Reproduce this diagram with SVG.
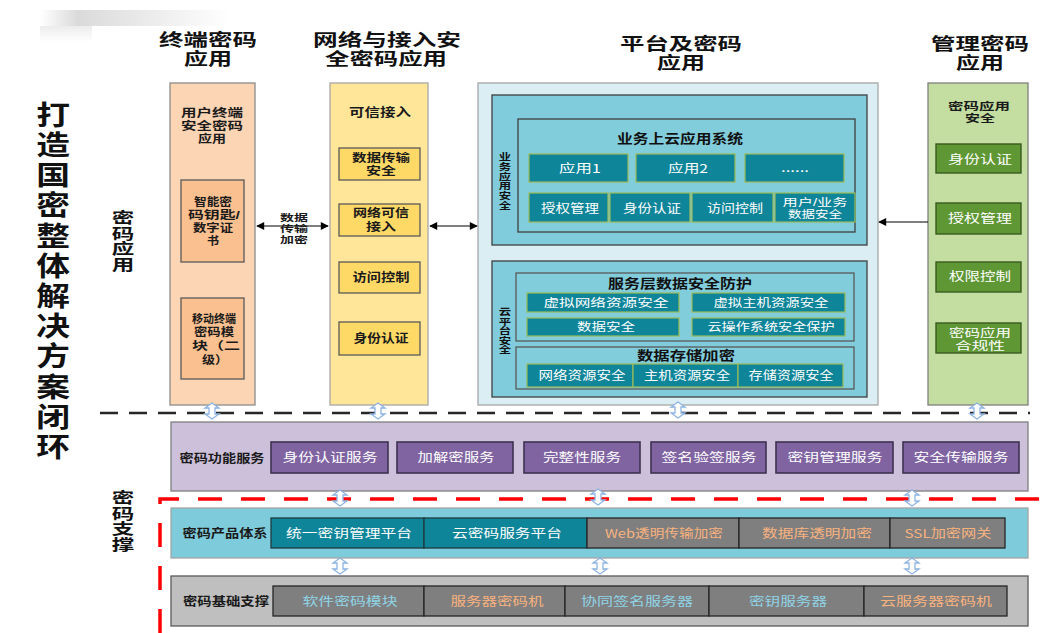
<svg xmlns="http://www.w3.org/2000/svg" width="1041" height="633" viewBox="0 0 1041 633">
<defs>
<style>
text{font-family:"Noto Sans CJK SC","Noto Sans",sans-serif;text-anchor:middle}
text.m{font-family:"Liberation Sans","Noto Sans CJK SC",sans-serif}
.v{writing-mode:vertical-rl;text-anchor:start;font-weight:bold;fill:#111}
.h{font-size:16.5px;font-weight:bold;fill:#111}
.d{font-size:12px;font-weight:bold;fill:#1a1a1a}
.d2{font-size:11.5px;font-weight:bold;fill:#1a1a1a}
.d3{font-size:10.5px;font-weight:bold;fill:#1a1a1a}
.s{font-size:9.5px;font-weight:bold;fill:#1a1a1a}
.w{font-size:12px;fill:#fff}
.w3{font-size:10.5px;fill:#fff}
.w11{font-size:11px;fill:#fff}
.o{font-size:12px;fill:#F9B27E}
.b{font-size:12px;fill:#8FD4E6}
.t13{font-size:13px;font-weight:bold;fill:#111}
.teal{fill:#0F8599;stroke:#9BBB59;stroke-width:1.2}
.purp{fill:#8064A2;stroke:#3F3151;stroke-width:1.6}
.grn{fill:#5F9735;stroke:#3A5A20;stroke-width:1.4}
.gold{fill:#FFD966;stroke:#595959;stroke-width:1.3}
.peach{fill:#FAC08F;stroke:#595959;stroke-width:1.3}
.gray{fill:#7F7F7F;stroke:#262626;stroke-width:1.3}
.tealp{fill:#0F8599;stroke:#1F3A40;stroke-width:1.3}
.cn{fill:none;stroke:#000;stroke-width:1.2}
</style>
<marker id="ah" viewBox="0 0 10 10" refX="9" refY="5" markerWidth="10" markerHeight="8" orient="auto-start-reverse" markerUnits="userSpaceOnUse">
<path d="M0,0 L10,5 L0,10 Z" fill="#000"/>
</marker>
<path id="ud" d="M0,-8 L7,-3 L3,-3 L3,3 L7,3 L0,8 L-7,3 L-3,3 L-3,-3 L-7,-3 Z" fill="#fff" stroke="#8DB3E2" stroke-width="1.3"/>
<linearGradient id="sh" x1="0" y1="0" x2="1" y2="0">
<stop offset="0" stop-color="#fff"/>
<stop offset="0.2" stop-color="#DADADA"/>
<stop offset="1" stop-color="#fff"/>
</linearGradient>
<linearGradient id="sh2" x1="0" y1="0" x2="0" y2="1">
<stop offset="0" stop-color="#ECECEC"/>
<stop offset="1" stop-color="#fff"/>
</linearGradient>
</defs>
<rect width="1041" height="633" fill="#fff"/>
<rect x="40" y="10" width="190" height="16" fill="url(#sh)"/>
<rect x="40" y="26" width="52" height="16" fill="url(#sh2)"/>

<g id="title">
<text class="h m"><tspan x="208" y="46" textLength="98" lengthAdjust="spacingAndGlyphs">终端密码</tspan><tspan x="208" y="65" textLength="48" lengthAdjust="spacingAndGlyphs">应用</tspan></text>
<text class="h m"><tspan x="387" y="46" textLength="148" lengthAdjust="spacingAndGlyphs">网络与接入安</tspan><tspan x="386" y="65" textLength="122" lengthAdjust="spacingAndGlyphs">全密码应用</tspan></text>
<text class="h m"><tspan x="681" y="50" textLength="122" lengthAdjust="spacingAndGlyphs">平台及密码</tspan><tspan x="681" y="69" textLength="48" lengthAdjust="spacingAndGlyphs">应用</tspan></text>
<text class="h m"><tspan x="980" y="50" textLength="98" lengthAdjust="spacingAndGlyphs">管理密码</tspan><tspan x="980" y="69" textLength="48" lengthAdjust="spacingAndGlyphs">应用</tspan></text>
<text class="v" transform="translate(53,101) scale(1.25,1)" x="0" y="0" style="font-size:27px;letter-spacing:3.2px">打造国密整体解决方案闭环</text>
<text class="v" transform="translate(123,210) scale(1.5,1)" x="0" y="0" style="font-size:15px;letter-spacing:0.5px">密码应用</text>
<text class="v" transform="translate(123,490) scale(1.5,1)" x="0" y="0" style="font-size:15px;letter-spacing:0.5px">密码支撑</text>
</g>

<g id="col-terminal">
<rect x="170" y="83" width="85" height="322" fill="#FCD5B4" stroke="#8C8C8C" stroke-width="1.3"/>
<text class="d2 m"><tspan x="212" y="117" textLength="62" lengthAdjust="spacingAndGlyphs">用户终端</tspan><tspan x="212" y="130" textLength="62" lengthAdjust="spacingAndGlyphs">安全密码</tspan><tspan x="212" y="143" textLength="28" lengthAdjust="spacingAndGlyphs">应用</tspan></text>
<rect class="peach" x="181" y="180" width="63" height="82"/>
<text class="d2 m"><tspan x="213" y="206" textLength="38" lengthAdjust="spacingAndGlyphs">智能密</tspan><tspan x="214" y="219" textLength="52" lengthAdjust="spacingAndGlyphs">码钥匙/</tspan><tspan x="213" y="232" textLength="40" lengthAdjust="spacingAndGlyphs">数字证</tspan><tspan x="213" y="245" textLength="12" lengthAdjust="spacingAndGlyphs">书</tspan></text>
<rect class="peach" x="181" y="298" width="63" height="81"/>
<text class="d2 m"><tspan x="214" y="323" textLength="44" lengthAdjust="spacingAndGlyphs">移动终端</tspan><tspan x="214" y="336" textLength="40" lengthAdjust="spacingAndGlyphs">密码模</tspan><tspan x="216" y="350" textLength="48" lengthAdjust="spacingAndGlyphs">块（二</tspan><tspan x="215" y="364" textLength="26" lengthAdjust="spacingAndGlyphs">级）</tspan></text>
</g>

<g id="col-network">
<rect x="330" y="83" width="98" height="322" fill="#FFE699" stroke="#A6A6A6" stroke-width="1.3"/>
<text class="d" x="380" y="117" textLength="62" lengthAdjust="spacingAndGlyphs">可信接入</text>
<rect class="gold" x="339" y="148" width="81" height="32"/>
<text class="d2 m"><tspan x="381" y="162" textLength="58" lengthAdjust="spacingAndGlyphs">数据传输</tspan><tspan x="381" y="175" textLength="30" lengthAdjust="spacingAndGlyphs">安全</tspan></text>
<rect class="gold" x="339" y="204" width="81" height="32"/>
<text class="d2 m"><tspan x="381" y="217" textLength="56" lengthAdjust="spacingAndGlyphs">网络可信</tspan><tspan x="381" y="231" textLength="30" lengthAdjust="spacingAndGlyphs">接入</tspan></text>
<rect class="gold" x="339" y="262" width="81" height="31"/>
<text class="d" x="381" y="282" textLength="57" lengthAdjust="spacingAndGlyphs">访问控制</text>
<rect class="gold" x="339" y="322" width="81" height="33"/>
<text class="d" x="381" y="343" textLength="55" lengthAdjust="spacingAndGlyphs">身份认证</text>
</g>

<g id="col-platform">
<rect x="478" y="83" width="400" height="322" fill="#DAEEF3" stroke="#A6A6A6" stroke-width="1.3"/>
<rect x="492" y="95" width="375" height="150" fill="#80CCDC" stroke="#3F3F3F" stroke-width="1.3"/>
<text class="v" transform="translate(505,152) scale(1.3,1)" x="0" y="0" style="font-size:9.5px;letter-spacing:0.2px">业务应用安全</text>
<rect x="518" y="119" width="337" height="113" fill="#82CDDC" stroke="#3F3F3F" stroke-width="1.3"/>
<text class="t13" x="680" y="143" textLength="126" lengthAdjust="spacingAndGlyphs">业务上云应用系统</text>
<rect class="teal" x="529" y="154" width="99" height="28"/>
<rect class="teal" x="636" y="154" width="99" height="28"/>
<rect class="teal" x="745" y="154" width="99" height="28"/>
<text class="w" x="580" y="173" textLength="42" lengthAdjust="spacingAndGlyphs">应用1</text>
<text class="w" x="688" y="173" textLength="40" lengthAdjust="spacingAndGlyphs">应用2</text>
<text class="w" x="795" y="172" textLength="28" lengthAdjust="spacingAndGlyphs">......</text>
<rect class="teal" x="529" y="193" width="79" height="29"/>
<rect class="teal" x="610" y="193" width="80" height="29"/>
<rect class="teal" x="692" y="193" width="81" height="29"/>
<rect class="teal" x="775" y="193" width="80" height="29"/>
<text class="w" x="570" y="213" textLength="58" lengthAdjust="spacingAndGlyphs">授权管理</text>
<text class="w" x="652" y="213" textLength="58" lengthAdjust="spacingAndGlyphs">身份认证</text>
<text class="w" x="735" y="213" textLength="56" lengthAdjust="spacingAndGlyphs">访问控制</text>
<text class="w3 m"><tspan x="815" y="206" textLength="65" lengthAdjust="spacingAndGlyphs">用户/业务</tspan><tspan x="815" y="218" textLength="54" lengthAdjust="spacingAndGlyphs">数据安全</tspan></text>

<rect x="492" y="261" width="375" height="136" fill="#80CCDC" stroke="#3F3F3F" stroke-width="1.3"/>
<text class="v" transform="translate(505,307) scale(1.3,1)" x="0" y="0" style="font-size:9.5px;letter-spacing:0px">云平台安全</text>
<rect x="516" y="273" width="338" height="68" fill="#82CDDC" stroke="#595959" stroke-width="1.3"/>
<text class="t13" x="680" y="288" textLength="144" lengthAdjust="spacingAndGlyphs">服务层数据安全防护</text>
<rect class="teal" x="527" y="293" width="152" height="19"/>
<rect class="teal" x="692" y="293" width="153" height="19"/>
<rect class="teal" x="527" y="318" width="152" height="18"/>
<rect class="teal" x="692" y="318" width="153" height="18"/>
<text class="w11" x="606" y="307" textLength="125" lengthAdjust="spacingAndGlyphs">虚拟网络资源安全</text>
<text class="w11" x="771" y="307" textLength="115" lengthAdjust="spacingAndGlyphs">虚拟主机资源安全</text>
<text class="w11" x="606" y="331" textLength="58" lengthAdjust="spacingAndGlyphs">数据安全</text>
<text class="w11" x="771" y="331" textLength="127" lengthAdjust="spacingAndGlyphs">云操作系统安全保护</text>
<rect x="516" y="347" width="338" height="42" fill="#82CDDC" stroke="#595959" stroke-width="1.3"/>
<text class="t13" x="686" y="360" textLength="98" lengthAdjust="spacingAndGlyphs">数据存储加密</text>
<rect class="teal" x="527" y="364" width="106" height="23"/>
<rect class="teal" x="633" y="364" width="105" height="23"/>
<rect class="teal" x="738" y="364" width="105" height="23"/>
<text class="w" x="582" y="380" textLength="87" lengthAdjust="spacingAndGlyphs">网络资源安全</text>
<text class="w" x="687" y="380" textLength="86" lengthAdjust="spacingAndGlyphs">主机资源安全</text>
<text class="w" x="791" y="380" textLength="85" lengthAdjust="spacingAndGlyphs">存储资源安全</text>
</g>

<g id="col-management">
<rect x="928" y="83" width="100" height="322" fill="#C3DEA0" stroke="#7F7F7F" stroke-width="1.3"/>
<text class="d3 m"><tspan x="979" y="110" textLength="62" lengthAdjust="spacingAndGlyphs">密码应用</tspan><tspan x="980" y="122" textLength="30" lengthAdjust="spacingAndGlyphs">安全</tspan></text>
<rect class="grn" x="936" y="144" width="85" height="29"/>
<rect class="grn" x="936" y="203" width="85" height="31"/>
<rect class="grn" x="936" y="262" width="85" height="30"/>
<rect class="grn" x="936" y="323" width="85" height="30"/>
<text class="w" x="980" y="164" textLength="64" lengthAdjust="spacingAndGlyphs">身份认证</text>
<text class="w" x="980" y="223" textLength="64" lengthAdjust="spacingAndGlyphs">授权管理</text>
<text class="w" x="980" y="281" textLength="62" lengthAdjust="spacingAndGlyphs">权限控制</text>
<text class="w m" style="font-size:11.5px"><tspan x="980" y="337" textLength="62" lengthAdjust="spacingAndGlyphs">密码应用</tspan><tspan x="980" y="350" textLength="50" lengthAdjust="spacingAndGlyphs">合规性</tspan></text>
</g>

<g id="layer-function">
<rect x="171" y="422" width="857" height="69" fill="#CCC0DA" stroke="#7F7F7F" stroke-width="1.3"/>
<text class="d" x="222" y="463" textLength="85" lengthAdjust="spacingAndGlyphs">密码功能服务</text>
<rect class="purp" x="271" y="442" width="117" height="31"/>
<rect class="purp" x="397" y="442" width="116" height="31"/>
<rect class="purp" x="524" y="442" width="116" height="31"/>
<rect class="purp" x="651" y="442" width="115" height="31"/>
<rect class="purp" x="776" y="442" width="117" height="31"/>
<rect class="purp" x="903" y="442" width="116" height="31"/>
<text class="w" x="330" y="462" textLength="95" lengthAdjust="spacingAndGlyphs">身份认证服务</text>
<text class="w" x="456" y="462" textLength="77" lengthAdjust="spacingAndGlyphs">加解密服务</text>
<text class="w" x="582" y="462" textLength="78" lengthAdjust="spacingAndGlyphs">完整性服务</text>
<text class="w" x="709" y="462" textLength="95" lengthAdjust="spacingAndGlyphs">签名验签服务</text>
<text class="w" x="835" y="462" textLength="95" lengthAdjust="spacingAndGlyphs">密钥管理服务</text>
<text class="w" x="961" y="462" textLength="95" lengthAdjust="spacingAndGlyphs">安全传输服务</text>
</g>

<g id="layer-product">
<rect x="171" y="508" width="857" height="50" fill="#7DCBDB" stroke="#A5A5A5" stroke-width="1.3"/>
<text class="d" x="225" y="538" textLength="85" lengthAdjust="spacingAndGlyphs">密码产品体系</text>
<rect class="tealp" x="271" y="518" width="153" height="30"/>
<rect class="tealp" x="424" y="518" width="163" height="30"/>
<rect class="gray" x="587" y="518" width="152" height="30"/>
<rect class="gray" x="739" y="518" width="151" height="30"/>
<rect class="gray" x="890" y="518" width="115" height="30"/>
<text class="w" x="349" y="538" textLength="126" lengthAdjust="spacingAndGlyphs">统一密钥管理平台</text>
<text class="w" x="507" y="538" textLength="110" lengthAdjust="spacingAndGlyphs">云密码服务平台</text>
<text class="o" x="664" y="538" textLength="118" lengthAdjust="spacingAndGlyphs">Web透明传输加密</text>
<text class="o" x="817" y="538" textLength="110" lengthAdjust="spacingAndGlyphs">数据库透明加密</text>
<text class="o" x="948" y="538" textLength="87" lengthAdjust="spacingAndGlyphs">SSL加密网关</text>
</g>

<g id="layer-base">
<rect x="171" y="576" width="857" height="50" fill="#BFBFBF" stroke="#595959" stroke-width="1.3"/>
<text class="d" x="226" y="606" textLength="86" lengthAdjust="spacingAndGlyphs">密码基础支撑</text>
<rect class="gray" x="273" y="586" width="151" height="30"/>
<rect class="gray" x="424" y="586" width="141" height="30"/>
<rect class="gray" x="565" y="586" width="144" height="30"/>
<rect class="gray" x="709" y="586" width="155" height="30"/>
<rect class="gray" x="864" y="586" width="143" height="30"/>
<text class="b" x="350" y="606" textLength="95" lengthAdjust="spacingAndGlyphs">软件密码模块</text>
<text class="o" x="497" y="606" textLength="93" lengthAdjust="spacingAndGlyphs">服务器密码机</text>
<text class="b" x="637" y="606" textLength="112" lengthAdjust="spacingAndGlyphs">协同签名服务器</text>
<text class="b" x="788" y="606" textLength="78" lengthAdjust="spacingAndGlyphs">密钥服务器</text>
<text class="o" x="936" y="606" textLength="112" lengthAdjust="spacingAndGlyphs">云服务器密码机</text>
</g>

<g id="connectors">
<line x1="100" y1="413" x2="1030" y2="413" stroke="#262626" stroke-width="2.5" stroke-dasharray="18 11"/>
<path d="M160,633 L160,499 L1041,499" fill="none" stroke="#FF0000" stroke-width="3.5" stroke-dasharray="24 19"/>
<line class="cn" x1="257" y1="226" x2="328" y2="226" marker-start="url(#ah)" marker-end="url(#ah)"/>
<text class="s m"><tspan x="294" y="221" textLength="28" lengthAdjust="spacingAndGlyphs">数据</tspan><tspan x="294" y="232" textLength="28" lengthAdjust="spacingAndGlyphs">传输</tspan><tspan x="294" y="243" textLength="28" lengthAdjust="spacingAndGlyphs">加密</tspan></text>
<line class="cn" x1="430" y1="226" x2="477" y2="226" marker-start="url(#ah)" marker-end="url(#ah)"/>
<line class="cn" x1="928" y1="222" x2="879" y2="222" marker-end="url(#ah)"/>
<use href="#ud" x="212" y="411"/>
<use href="#ud" x="378" y="411"/>
<use href="#ud" x="678" y="410"/>
<use href="#ud" x="977" y="411"/>
<use href="#ud" x="340" y="498"/>
<use href="#ud" x="598" y="497"/>
<use href="#ud" x="912" y="498"/>
<use href="#ud" x="340" y="566"/>
<use href="#ud" x="600" y="566"/>
<use href="#ud" x="912" y="566"/>
</g>
</svg>
